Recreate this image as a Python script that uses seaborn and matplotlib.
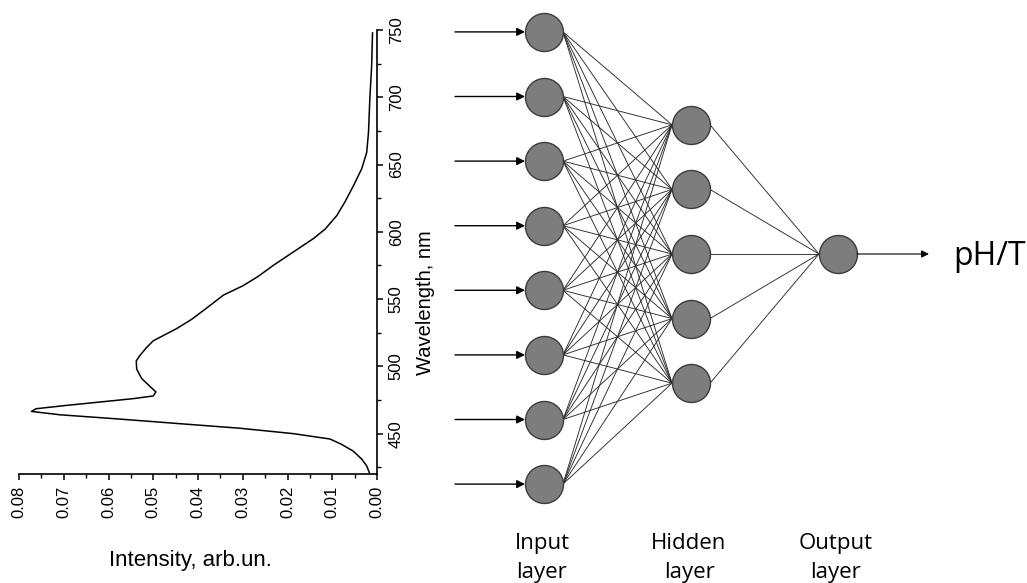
import matplotlib
matplotlib.use("Agg")
import matplotlib.pyplot as plt
from matplotlib.collections import LineCollection
from matplotlib.ticker import MultipleLocator
import numpy as np
import seaborn as sns

# spectrum
wavelength = [420, 426, 431, 437, 442, 446, 450, 454, 457, 461, 464, 466.5, 468.5,
              471, 473.5, 476, 478, 481, 485, 491, 498, 504, 508, 514, 519, 523,
              528, 535, 543, 553, 560, 567, 575, 585, 595, 602, 612, 622, 634,
              647, 659, 674, 699, 723, 748]
intensity = [0.0016, 0.0023, 0.0034, 0.0053, 0.0079, 0.0105, 0.0187, 0.0306,
             0.0425, 0.0582, 0.0708, 0.0772, 0.0762, 0.0694, 0.0619, 0.0545,
             0.0500, 0.0494, 0.0507, 0.0526, 0.0537, 0.0538, 0.0530, 0.0515,
             0.0500, 0.0477, 0.0448, 0.0414, 0.0382, 0.0343, 0.0299, 0.0265,
             0.0232, 0.0187, 0.0142, 0.0116, 0.0090, 0.0072, 0.0053, 0.0034,
             0.0023, 0.0019, 0.0016, 0.0012, 0.0010]

# network
layer_names = ["Input\nlayer", "Hidden\nlayer", "Output\nlayer"]
layer_sizes = [8, 5, 1]
output_label = "pH/T"

sns.set_theme(style="white")
plt.rcParams['font.family'] = ['Liberation Sans', 'DejaVu Sans']
plt.rcParams['text.color'] = 'black'
plt.rcParams['axes.labelcolor'] = 'black'
plt.rcParams['xtick.color'] = 'black'
plt.rcParams['ytick.color'] = 'black'

fig = plt.figure(figsize=(10.27, 5.83), dpi=100)

# ---- diagram in pixel coordinates ----
W, H = 1027, 583
net = fig.add_axes([0, 0, 1, 1])
net.set_xlim(0, W)
net.set_ylim(H, 0)
net.axis("off")
net.patch.set_alpha(0)

layer_x = [544, 691, 838]
layer_cy = [258, 254, 254]
step = 64.6
r = 19
nodes = []
for n, lx, cy in zip(layer_sizes, layer_x, layer_cy):
    ys = cy + (np.arange(n) - (n - 1) / 2) * step
    nodes.append([(lx, y) for y in ys])

segs = []
for a, b in zip(nodes[:-1], nodes[1:]):
    for (x0, y0) in a:
        for (x1, y1) in b:
            segs.append([(x0 + r, y0), (x1 - r, y1)])
net.add_collection(LineCollection(segs, colors="#2a2a2a", linewidths=0.65, zorder=1))

all_x = [p[0] for layer in nodes for p in layer]
all_y = [p[1] for layer in nodes for p in layer]
sns.scatterplot(x=all_x, y=all_y, ax=net, s=(2 * r * 0.72) ** 2, color="#7d7d7d",
                edgecolor="#3c3c3c", linewidth=1.0, zorder=3, legend=False)

for (x, y) in nodes[0]:
    net.annotate("", xy=(x - r, y), xytext=(455, y),
                 arrowprops=dict(arrowstyle="-|>", color="black", lw=1.0,
                                 mutation_scale=12, shrinkA=0, shrinkB=0))
ox, oy = nodes[-1][0]
net.annotate("", xy=(929, oy), xytext=(ox + r, oy),
             arrowprops=dict(arrowstyle="-|>", color="black", lw=0.8,
                             mutation_scale=11, shrinkA=0, shrinkB=0))
net.text(953, oy + 11, output_label, fontsize=23, family=['Open Sans', 'DejaVu Sans'],
         va="baseline", ha="left")

for name, lx in zip(layer_names, layer_x):
    net.text(lx - 2, 558, name, fontsize=16, family=['Open Sans', 'DejaVu Sans'],
             ha="center", va="center", linespacing=1.45)

# ---- spectrum ----
ax = fig.add_axes([19 / W, 1 - 474 / H, (377 - 19) / W, (474 - 30) / H])
sns.lineplot(x=intensity, y=wavelength, ax=ax, sort=False, estimator=None,
             color="black", linewidth=1.1)
ax.set_xlim(0.08, 0.0)
ax.set_ylim(420, 750)
ax.patch.set_alpha(0)
for s in ["top", "left"]:
    ax.spines[s].set_visible(False)
for s in ["bottom", "right"]:
    ax.spines[s].set_color("black")
    ax.spines[s].set_linewidth(1.2)
ax.yaxis.tick_right()
ax.yaxis.set_label_position("right")
ax.xaxis.set_major_locator(MultipleLocator(0.01))
ax.xaxis.set_minor_locator(MultipleLocator(0.005))
ax.yaxis.set_major_locator(MultipleLocator(50))
ax.yaxis.set_minor_locator(MultipleLocator(25))
ax.set_xticks(np.arange(0, 0.0801, 0.01))
ax.set_xticklabels([f"{v:.2f}" for v in np.arange(0, 0.0801, 0.01)])
ax.tick_params(which="major", direction="out", length=4.5, width=1.1, labelsize=12,
               pad=4, bottom=True, right=True, left=False)
ax.tick_params(which="minor", direction="out", length=3, width=1.0,
               bottom=True, right=True, left=False)
plt.setp(ax.get_xticklabels(), rotation=90)
plt.setp(ax.get_yticklabels(), rotation=90, va="center")
ax.set_xlabel("Intensity, arb.un.", fontsize=16)
ax.set_ylabel("Wavelength, nm", fontsize=14.5)
ax.xaxis.set_label_coords(0.48, -0.171)
ax.yaxis.set_label_coords(1.11, 0.387)

fig.savefig("out.png", dpi=100)
